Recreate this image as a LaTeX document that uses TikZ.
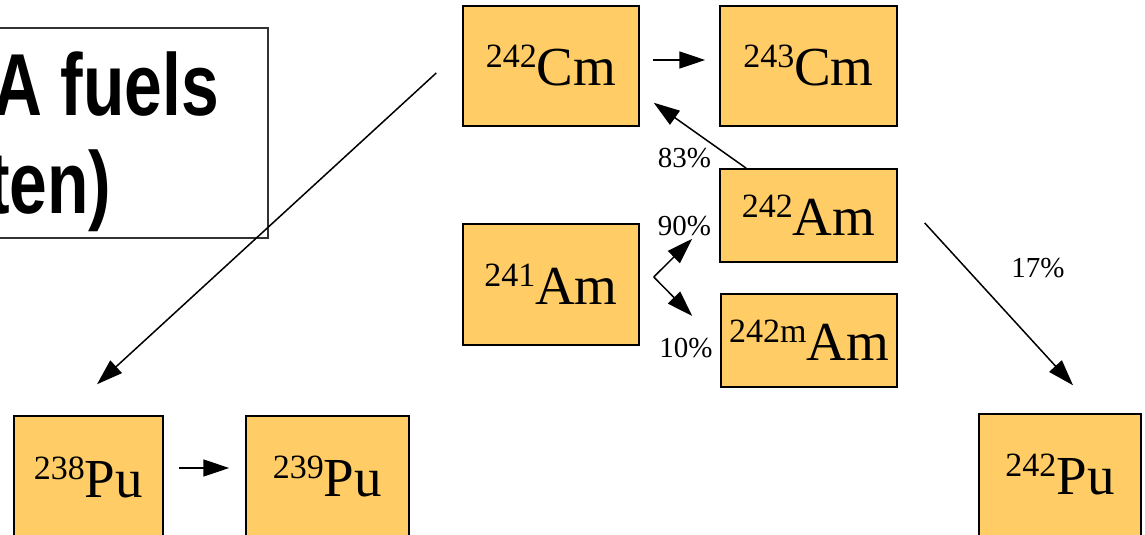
\documentclass[tikz,border=0pt]{standalone}
\usepackage{fontspec}
\setmainfont{Liberation Serif}
\newfontfamily\titlefont{Liberation Sans}
\usetikzlibrary{arrows.meta,calc}
\definecolor{boxfill}{RGB}{255,204,102}
\definecolor{titleline}{RGB}{50,50,50}
\newcommand{\iso}[2]{{\fontsize{34}{34}\selectfont\raisebox{18pt}{#1}}{\fontsize{55}{55}\selectfont #2}}
\newcommand{\ttl}[1]{\scalebox{0.77}[1]{\titlefont\bfseries\fontsize{88}{88}\selectfont #1}}
\begin{document}
\begin{tikzpicture}[x=1pt,y=-1pt,
  nuc/.style={draw=black,line width=1.5pt,fill=boxfill,inner sep=0pt},
  arr/.style={line width=1.5pt,-{Triangle[length=26pt,width=17pt]}},
  lab/.style={font=\fontsize{29}{29}\selectfont,inner sep=0pt,anchor=base},
  titlebox/.style={draw=titleline,line width=1.5pt,fill=white,inner sep=0pt}]
\useasboundingbox (0,0) rectangle (1145,535);
\clip (0,0) rectangle (1145,535);
% title box
\node[titlebox,minimum width=278pt,minimum height=210pt] (title) at (129,133) {};
\node[inner sep=0pt,anchor=base west] (t1) at (-7,115) {\ttl{A fuels}};
\node[inner sep=0pt,anchor=base west] (t2) at (-13,213) {\ttl{ten)}};
% nuclide boxes
\node[nuc,minimum width=176pt,minimum height=120pt] (cm242) at (551,66) {\iso{242}{Cm}};
\node[nuc,minimum width=177pt,minimum height=120pt] (cm243) at (808.5,66) {\iso{243}{Cm}};
\node[nuc,minimum width=176pt,minimum height=121pt] (am241) at (551,284.5) {\iso{241}{Am}};
\node[nuc,minimum width=177pt,minimum height=93pt] (am242) at (808.5,215.5) {\iso{242}{Am}};
\node[nuc,minimum width=176pt,minimum height=93pt] (am242m) at (809,340.5) {\iso{242m}{Am}};
\node[nuc,minimum width=149pt,minimum height=122pt] (pu238) at (88.5,477) {\iso{238}{Pu}};
\node[nuc,minimum width=163pt,minimum height=122pt] (pu239) at (327.5,477) {\iso{239}{Pu}};
\node[nuc,minimum width=162pt,minimum height=122pt] (pu242) at (1060,475) {\iso{242}{Pu}};
% connectors
\draw[arr] ($(cm242.east)+(13,-6)$) -- ($(cm243.west)+(-14,-6)$);
\draw[arr] ($(am242.north west)+(27,0)$) -- ($(cm242.south east)+(14,-24)$);
\coordinate (br) at ($(am241.east)+(14,-7.5)$);
\draw[arr] (br) -- ($(am242.south west)+(-27,-24)$);
\draw[arr] (br) -- ($(am242m.west)+(-28,-24.5)$);
\draw[arr] ($(am242.east)+(27,7.5)$) -- ($(pu242.north)+(13,-28)$);
\draw[arr] ($(cm242.west)+(-26,7)$) -- ($(pu238.north)+(8.5,-31)$);
\draw[arr] ($(pu238.east)+(15,-9)$) -- ($(pu239.west)+(-16,-9)$);
% labels
\node[lab] (l83) at (684.5,167) {83\%};
\node[lab] (l90) at (684.5,235) {90\%};
\node[lab] (l10) at (686,357) {10\%};
\node[lab] (l17) at (1038,277) {17\%};
\end{tikzpicture}
\end{document}
